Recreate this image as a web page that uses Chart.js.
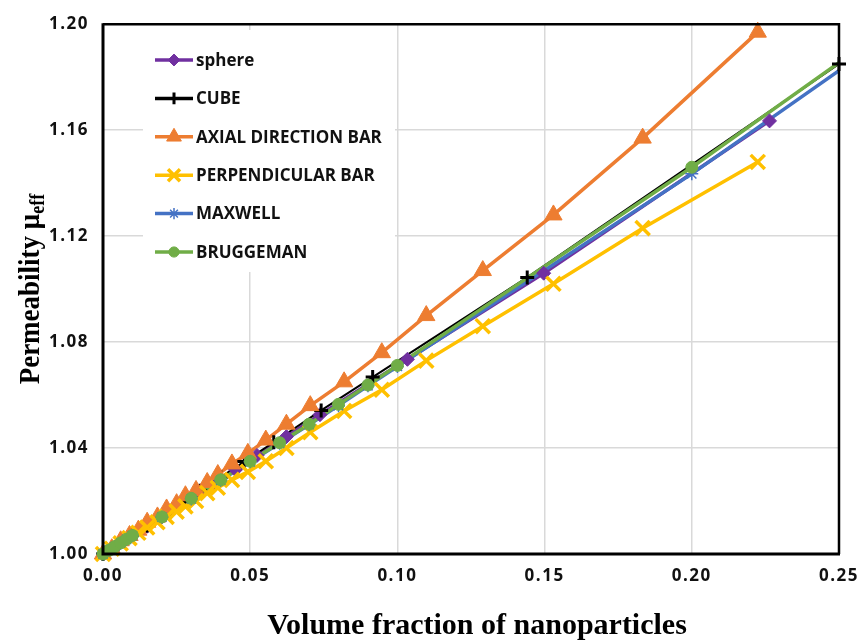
<!DOCTYPE html>
<html>
<head>
<meta charset="utf-8">
<script src="https://cdn.jsdelivr.net/npm/chart.js@4/dist/chart.umd.min.js"></script>
<style>
  html, body { margin: 0; padding: 0; background: #fff; }
  #wrap { width: 868px; height: 642px; position: relative; }
</style>
</head>
<body>
<div id="wrap"><canvas id="c" width="868" height="642"></canvas></div>
<script>
// ---- data ----
const seriesNames = ['sphere', 'CUBE', 'AXIAL DIRECTION BAR', 'PERPENDICULAR BAR', 'MAXWELL', 'BRUGGEMAN'];

const sphereX = [0, 0.005, 0.010, 0.015, 0.020, 0.026, 0.032, 0.038, 0.045, 0.0523, 0.0623, 0.0737, 0.1034, 0.1497, 0.2264];
const sphereY = [1.000, 1.0035, 1.0070, 1.0105, 1.0140, 1.0182, 1.0225, 1.0268, 1.0318, 1.0372, 1.0443, 1.0526, 1.0735, 1.1060, 1.1635];

const cubeX = [0, 0.005, 0.010, 0.015, 0.021, 0.027, 0.033, 0.040, 0.048, 0.058, 0.0741, 0.0916, 0.1441, 0.25];
const cubeY = [1.000, 1.0036, 1.0072, 1.0108, 1.0151, 1.0195, 1.0239, 1.0290, 1.0349, 1.0422, 1.0542, 1.0668, 1.1044, 1.1850];

const barX = [0, 0.003, 0.006, 0.009, 0.012, 0.015, 0.0185, 0.0216, 0.025, 0.028, 0.0316, 0.0354, 0.039, 0.0438, 0.0492, 0.0553, 0.0623, 0.0704, 0.0819, 0.0947, 0.1098, 0.129, 0.153, 0.1833, 0.2224];
const axialY = [1.000, 1.002, 1.005, 1.007, 1.009, 1.012, 1.014, 1.017, 1.019, 1.022, 1.024, 1.027, 1.030, 1.034, 1.038, 1.043, 1.049, 1.056, 1.065, 1.076, 1.090, 1.107, 1.128, 1.157, 1.197];
const perpY = [1.000, 1.002, 1.004, 1.006, 1.008, 1.010, 1.012, 1.014, 1.016, 1.018, 1.020, 1.023, 1.025, 1.028, 1.031, 1.035, 1.040, 1.046, 1.054, 1.062, 1.073, 1.086, 1.102, 1.123, 1.148];

const modelX = [0, 0.002, 0.004, 0.006, 0.008, 0.01, 0.02, 0.03, 0.04, 0.05, 0.06, 0.07, 0.08, 0.09, 0.10, 0.20, 0.30];
const maxwellY = [1.000, 1.0014, 1.0028, 1.0041, 1.0055, 1.0069, 1.0139, 1.0208, 1.0278, 1.0348, 1.0418, 1.0488, 1.0560, 1.0635, 1.0708, 1.1435, 1.2215];
const bruggemanY = [1.000, 1.0014, 1.0028, 1.0042, 1.0056, 1.0070, 1.0140, 1.0210, 1.0280, 1.0350, 1.0420, 1.0490, 1.0565, 1.0638, 1.0712, 1.1460, 1.2250];

const xTicks = [0, 0.05, 0.10, 0.15, 0.20, 0.25];
const yTicks = [1.00, 1.04, 1.08, 1.12, 1.16, 1.20];

// ---- styles ----
const looks = [
  { color: '#7030A0', style: 'rectRot', r: 7,    bw: 1,   lw: 3.5 },
  { color: '#000000', style: 'cross',   r: 7,    bw: 3,   lw: 2 },
  { color: '#ED7D31', style: 'triangle',r: 10,   bw: 1,   lw: 3.5 },
  { color: '#FFC000', style: 'crossRot',r: 10,   bw: 3.5, lw: 3.5 },
  { color: '#4472C4', style: 'star',    r: 6.5,  bw: 1.5, lw: 3.5 },
  { color: '#70AD47', style: 'circle',  r: 6,    bw: 1,   lw: 3.5 }
];

const pairs = (xs, ys) => xs.map((x, i) => ({ x: x, y: ys[i] }));
const seriesData = [
  pairs(sphereX, sphereY),
  pairs(cubeX, cubeY),
  pairs(barX, axialY),
  pairs(barX, perpY),
  pairs(modelX, maxwellY),
  pairs(modelX, bruggemanY)
];

// the model curves run past 0.25 and are cut exactly at the right edge
const modelClip = { left: 14, top: 14, right: 0, bottom: 14 };

const datasets = [];
// lines first (drawn beneath), later series on top
seriesData.forEach((d, i) => {
  const L = looks[i];
  datasets.push({
    label: seriesNames[i], data: d, showLine: true,
    borderColor: L.color, backgroundColor: L.color, borderWidth: L.lw,
    pointRadius: 0, order: 20 - i, clip: i >= 4 ? modelClip : 14
  });
});
// markers above all lines
seriesData.forEach((d, i) => {
  const L = looks[i];
  datasets.push({
    label: seriesNames[i] + ' markers', data: d, showLine: false,
    borderColor: L.color, backgroundColor: L.color,
    pointStyle: L.style, pointRadius: L.r, pointBorderWidth: L.bw,
    pointBorderColor: L.color, pointBackgroundColor: L.color,
    order: 10 - i, clip: i >= 4 ? modelClip : 14
  });
});

const CHART_FONT = "'Open Sans', 'DejaVu Sans', sans-serif";
const TITLE_FONT = "'Liberation Serif', 'Times New Roman', serif";

// white legend box inside the plot, with line + marker swatches
const legendBox = {
  id: 'legendBox',
  beforeDatasetsDraw(chart) {
    const ctx = chart.ctx;
    ctx.save();
    ctx.letterSpacing = '0px';
    ctx.fillStyle = '#ffffff';
    ctx.fillRect(143, 30, 252, 242);
    seriesNames.forEach((name, i) => {
      const L = looks[i];
      const y = 60 + i * 38.4;
      ctx.strokeStyle = L.color;
      ctx.lineWidth = 3.5;
      ctx.beginPath();
      ctx.moveTo(155, y);
      ctx.lineTo(193, y);
      ctx.stroke();
      ctx.fillStyle = L.color;
      ctx.lineWidth = L.bw;
      Chart.helpers.drawPoint(ctx, { pointStyle: L.style, radius: L.r * 0.85, rotation: 0, borderWidth: L.bw }, 174, y);
      ctx.fillStyle = '#111111';
      ctx.font = "bold 17px " + CHART_FONT;
      ctx.textAlign = 'left';
      ctx.textBaseline = 'middle';
      ctx.fillText(name, 196, y + 1);
    });
    ctx.restore();
  }
};

// plot frame and axis titles; tick labels get a little letter spacing
const frameAndTitles = {
  id: 'frameAndTitles',
  beforeDraw(chart) { chart.ctx.letterSpacing = '1.5px'; },
  beforeDatasetsDraw(chart) { chart.ctx.letterSpacing = '0px'; },
  afterDraw(chart) {
    const ctx = chart.ctx;
    const a = chart.chartArea;
    ctx.save();
    ctx.letterSpacing = '0px';
    ctx.strokeStyle = '#000';
    ctx.lineWidth = 2.5;
    ctx.beginPath();
    ctx.moveTo(a.left, a.top);
    ctx.lineTo(a.right, a.top);
    ctx.lineTo(a.right, a.bottom);
    ctx.stroke();
    ctx.lineWidth = 3;
    ctx.beginPath();
    ctx.moveTo(a.left, a.top - 1);
    ctx.lineTo(a.left, a.bottom);
    ctx.lineTo(a.right + 1, a.bottom);
    ctx.stroke();

    ctx.fillStyle = '#000';
    ctx.textBaseline = 'middle';
    // x title
    ctx.font = "bold 30px " + TITLE_FONT;
    ctx.textAlign = 'center';
    ctx.fillText('Volume fraction of nanoparticles', (a.left + a.right) / 2 + 6, 626);
    // y title with subscript
    ctx.translate(31, (a.top + a.bottom) / 2);
    ctx.rotate(-Math.PI / 2);
    ctx.scale(1, 1.12);
    const main = 'Permeability μ';
    const sub = 'eff';
    ctx.font = "bold 27px " + TITLE_FONT;
    const w1 = ctx.measureText(main).width;
    ctx.font = "bold 18px " + TITLE_FONT;
    const w2 = ctx.measureText(sub).width;
    const x0 = -(w1 + w2) / 2;
    ctx.textAlign = 'left';
    ctx.font = "bold 27px " + TITLE_FONT;
    ctx.fillText(main, x0, 0);
    ctx.font = "bold 18px " + TITLE_FONT;
    ctx.fillText(sub, x0 + w1, 7);
    ctx.restore();
  }
};

new Chart(document.getElementById('c'), {
  type: 'scatter',
  data: { datasets: datasets },
  plugins: [legendBox, frameAndTitles],
  options: {
    responsive: false,
    animation: false,
    layout: { padding: { top: 23, right: 23, left: 0, bottom: 0 } },
    plugins: { legend: { display: false }, tooltip: { enabled: false } },
    scales: {
      x: {
        type: 'linear', min: 0, max: 0.25,
        afterBuildTicks: ax => { ax.ticks = xTicks.map(v => ({ value: v })); },
        afterFit: ax => { ax.height = 88; },
        grid: { color: '#d9d9d9', lineWidth: 1.5, drawTicks: false },
        border: { display: false },
        ticks: {
          padding: 12, color: '#111',
          font: { family: CHART_FONT, size: 17, weight: 'bold' },
          callback: v => v.toFixed(2), maxRotation: 0
        }
      },
      y: {
        type: 'linear', min: 1.0, max: 1.2,
        afterBuildTicks: ax => { ax.ticks = yTicks.map(v => ({ value: v })); },
        afterFit: ax => { ax.width = 103; },
        grid: { color: '#d9d9d9', lineWidth: 1.5, drawTicks: false },
        border: { display: false },
        ticks: {
          padding: 14, color: '#111',
          font: { family: CHART_FONT, size: 17, weight: 'bold' },
          callback: v => v.toFixed(2)
        }
      }
    }
  }
});
</script>
</body>
</html>
